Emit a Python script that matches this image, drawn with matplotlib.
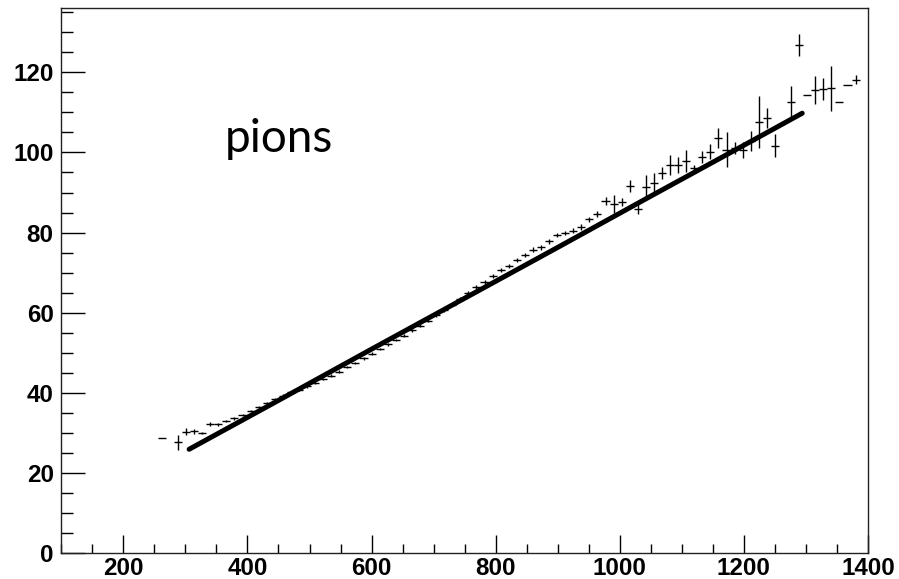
import matplotlib
matplotlib.use("Agg")
import matplotlib.pyplot as plt
from matplotlib.ticker import MultipleLocator

# binned measurement (bin centre, mean, error on mean), bin width 13
bin_x = [262, 288, 301, 314, 327, 340, 353, 366, 379, 392, 405, 418, 431, 444,
         457, 470, 483, 496, 509, 522, 535, 548, 561, 574, 587, 600, 613, 626,
         639, 652, 665, 678, 691, 704, 717, 730, 743, 756, 769, 782, 795, 808,
         821, 834, 847, 860, 873, 886, 899, 912, 925, 938, 951, 964, 977, 990,
         1003, 1016, 1029, 1042, 1055, 1068, 1081, 1094, 1107, 1120, 1133, 1146,
         1159, 1172, 1185, 1198, 1211, 1224, 1237, 1250, 1276, 1289, 1302, 1315,
         1328, 1341, 1354, 1367, 1380]
bin_y = [28.7, 27.6, 30.3, 30.4, 29.9, 32.2, 32.1, 32.9, 33.6, 34.4, 35.4, 36.5,
         37.4, 38.4, 39.3, 40.1, 40.8, 41.6, 42.4, 43.4, 44.3, 45.3, 46.4, 47.5,
         48.6, 49.8, 50.9, 52.1, 53.2, 54.3, 55.6, 56.8, 58.0, 59.3, 60.6, 62.0,
         63.4, 65.0, 66.4, 67.6, 69.2, 70.7, 71.6, 73.2, 74.3, 75.7, 76.3, 77.8,
         79.4, 79.9, 80.5, 81.4, 83.3, 84.6, 88.0, 87.2, 87.6, 91.6, 85.9, 91.3,
         92.3, 94.8, 96.8, 96.9, 97.8, 96.1, 98.8, 100.2, 103.6, 100.7, 101.0,
         100.6, 102.8, 107.6, 108.6, 101.7, 112.5, 126.8, 114.4, 115.6, 115.8,
         116.0, 112.7, 116.8, 118.2]
bin_err = [0.0, 1.9, 0.8, 0.6, 0.3, 0.4, 0.3, 0.3, 0.3, 0.3, 0.3, 0.3, 0.3, 0.3,
           0.3, 0.3, 0.3, 0.3, 0.3, 0.3, 0.3, 0.3, 0.3, 0.3, 0.3, 0.3, 0.3, 0.3,
           0.3, 0.3, 0.3, 0.3, 0.3, 0.3, 0.4, 0.4, 0.4, 0.5, 0.5, 0.5, 0.5, 0.5,
           0.5, 0.5, 0.5, 0.6, 0.6, 0.6, 0.6, 0.6, 0.7, 0.7, 0.7, 0.8, 1.0, 2.2,
           1.0, 1.5, 1.2, 3.0, 2.5, 1.5, 2.5, 2.0, 2.7, 0.8, 1.5, 1.8, 2.5, 4.3,
           1.5, 2.0, 2.5, 6.6, 2.5, 2.9, 4.1, 2.7, 0.0, 3.5, 2.7, 5.6, 0.0, 0.0,
           1.2]
half_width = 6.5

# dense calibration points, drawn as a thick line
line_x = [306, 450, 600, 750, 900, 1050, 1200, 1294]
line_y = [25.9, 38.1, 50.9, 63.6, 76.3, 89.1, 101.8, 109.8]

fig = plt.figure(figsize=(8.99, 5.79), dpi=100)
ax = fig.add_axes([0.0682, 0.0449, 0.8973, 0.9408])

ax.errorbar(bin_x, bin_y, xerr=half_width, yerr=bin_err, fmt='none',
            ecolor='black', elinewidth=1.0, capsize=0)
ax.plot(line_x, line_y, color='black', lw=3.6, solid_capstyle='round')

ax.set_xlim(100, 1400)
ax.set_ylim(0, 136)

ax.xaxis.set_major_locator(MultipleLocator(200))
ax.xaxis.set_minor_locator(MultipleLocator(50))
ax.yaxis.set_major_locator(MultipleLocator(20))
ax.yaxis.set_minor_locator(MultipleLocator(5))

ax.tick_params(axis='both', which='both', direction='in', top=False, right=False,
               width=1.0, colors='black')
ax.tick_params(axis='x', which='major', length=12.7, pad=3)
ax.tick_params(axis='x', which='minor', length=6.5)
ax.tick_params(axis='y', which='major', length=17, pad=5.5)
ax.tick_params(axis='y', which='minor', length=8.4)

for lab in ax.get_xticklabels() + ax.get_yticklabels():
    lab.set_fontfamily('Liberation Sans')
    lab.set_fontweight('bold')
    lab.set_fontsize(17.4)

for sp in ax.spines.values():
    sp.set_linewidth(1.0)
    sp.set_color('#222222')

ax.text(0.203, 0.737, 'pions', transform=ax.transAxes, fontsize=33,
        family='Lato', va='baseline', ha='left')

fig.savefig('out.png', dpi=100)
